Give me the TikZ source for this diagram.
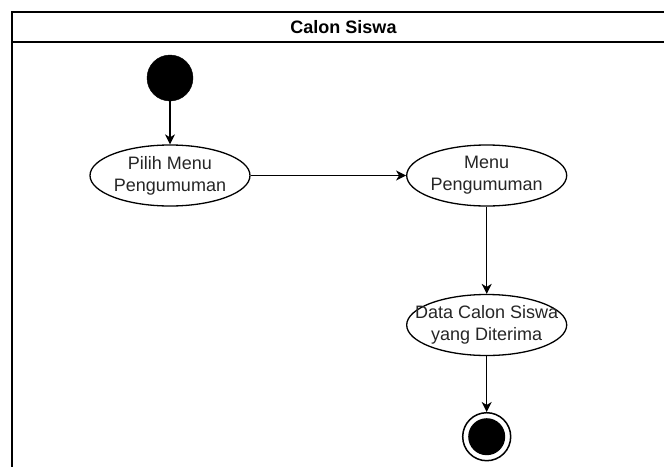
\documentclass[tikz,border=0pt]{standalone}
\usepackage{fontspec}
\setmainfont{Liberation Sans}
\usetikzlibrary{shapes.geometric,arrows.meta}
\begin{document}
\begin{tikzpicture}[x=1pt,y=-1pt,
  lane/.style={line width=1.5pt,draw=black},
  act/.style={ellipse,draw=black,line width=1.3pt,minimum width=160pt,minimum height=61pt,inner sep=0pt},
  lbl/.style={align=center,font=\fontsize{18}{22}\selectfont,text=black!85,inner sep=0pt},
  flow/.style={line width=1.3pt,-{Stealth[length=10pt,width=10pt,inset=3pt]}},
  startnode/.style={circle,fill=black,draw=black,minimum size=46pt,inner sep=0pt},
  endouter/.style={circle,draw=black,line width=1.5pt,minimum size=48pt,inner sep=0pt},
  endinner/.style={circle,fill=black,minimum size=37pt,inner sep=0pt}]
\useasboundingbox (0,0) rectangle (664,466);
\fill[white] (0,0) rectangle (664,466);
% swimlane
\draw[lane] (12,470) -- (12,12) -- (670,12);
\draw[lane] (12,42) -- (670,42);
\node[font=\bfseries\fontsize{18}{22}\selectfont,inner sep=0pt] (title) at (343.5,27) {Calon Siswa};
% nodes
\node[startnode] (start) at (170,78) {};
\node[act] (a1) at (170,175.5) {};
\node[lbl] (t1) at (a1) {Pilih Menu\\Pengumuman};
\node[act] (a2) at (486.7,175.5) {};
\node[lbl] (t2) at (a2) {Menu\\Pengumuman};
\node[act] (a3) at (486.7,325) {};
\node[lbl] (t3) at (a3) {Data Calon Siswa\\yang Diterima};
\node[endouter] (endo) at (486.7,436.7) {};
\node[endinner] (endi) at (endo) {};
% connectors
\draw[flow] (start) -- (a1);
\draw[flow] (a1) -- (a2);
\draw[flow] (a2) -- (a3);
\draw[flow] (a3) -- (endo);
\end{tikzpicture}
\end{document}
